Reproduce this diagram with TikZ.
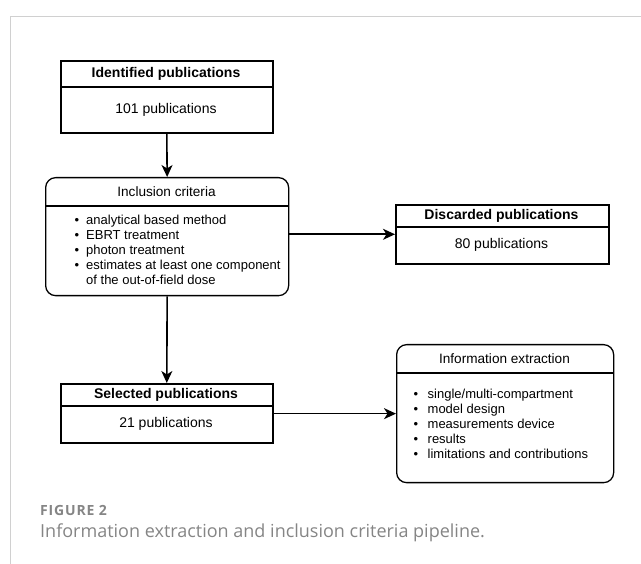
\documentclass[tikz,border=0pt]{standalone}
\usepackage{fontspec}
\setmainfont{Liberation Sans}
\newfontfamily\capfont{Open Sans}
\newfontfamily\figfont[LetterSpace=6]{Open Sans}
\usetikzlibrary{arrows.meta}
\definecolor{framegray}{HTML}{D0D0D0}
\definecolor{capgray}{HTML}{858585}
\begin{document}
\begin{tikzpicture}[x=1pt,y=-1pt,
  box/.style={draw, line width=1.6pt, inner sep=0pt, anchor=north west},
  rbox/.style={box, line width=1.3pt, rounded corners=10pt},
  divider/.style={line width=1.6pt},
  ttl/.style={font=\fontsize{14}{16}\selectfont\bfseries, inner sep=0pt},
  cnt/.style={font=\fontsize{14}{16}\selectfont, inner sep=0pt},
  rttl/.style={font=\fontsize{13.6}{16}\selectfont, inner sep=0pt},
  item/.style={font=\fontsize{13}{15}\selectfont, inner sep=0pt, anchor=base west},
  arr/.style={line width=1.6pt, -{Stealth[length=12pt,width=11pt,inset=3.5pt]}}
]
\useasboundingbox (0,0) rectangle (641,564);
% frame
\draw[framegray, line width=1pt] (641,17) -- (10,17) -- (10,564);

% Identified
\node[box, minimum width=212pt, minimum height=72pt] (ident) at (60,60) {};
\draw[divider] (60,87) -- (272,87);
\node[ttl] (identT) at (166,73.5) {Identified publications};
\node[cnt] (identC) at (166,109.5) {101 publications};

% Inclusion
\node[rbox, minimum width=243pt, minimum height=118pt] (incl) at (45,177) {};
\draw[line width=1.3pt] (45,206) -- (288,206);
\node[rttl] (inclT) at (166.5,191.5) {Inclusion criteria};
\node[item] (i1) at (74.5,224.5) {\makebox[11.5pt][l]{•}analytical based method};
\node[item] (i2) at (74.5,239.5) {\makebox[11.5pt][l]{•}EBRT treatment};
\node[item] (i3) at (74.5,254.5) {\makebox[11.5pt][l]{•}photon treatment};
\node[item] (i4) at (74.5,269.5) {\makebox[11.5pt][l]{•}estimates at least one component};
\node[item] (i5) at (86,284.5) {of the out-of-field dose};

% Discarded
\node[box, minimum width=213pt, minimum height=59pt] (disc) at (395,204) {};
\draw[divider] (395,227) -- (608,227);
\node[ttl] (discT) at (501.5,215.5) {Discarded publications};
\node[cnt] (discC) at (501.5,245) {80 publications};

% Selected
\node[box, minimum width=212pt, minimum height=59pt] (sel) at (60,383) {};
\draw[divider] (60,406) -- (272,406);
\node[ttl] (selT) at (166,394.5) {Selected publications};
\node[cnt] (selC) at (166,424) {21 publications};

% Information extraction
\node[rbox, minimum width=217pt, minimum height=138pt] (info) at (396,344) {};
\draw[line width=1.3pt] (396,373) -- (613,373);
\node[rttl] (infoT) at (504.5,358.5) {Information extraction};
\node[item] (e1) at (413.5,398.5) {\makebox[14pt][l]{•}single/multi-compartment};
\node[item] (e2) at (413.5,413.5) {\makebox[14pt][l]{•}model design};
\node[item] (e3) at (413.5,428.5) {\makebox[14pt][l]{•}measurements device};
\node[item] (e4) at (413.5,443.5) {\makebox[14pt][l]{•}results};
\node[item] (e5) at (413.5,458.5) {\makebox[14pt][l]{•}limitations and contributions};

% connectors
\draw[arr] (ident.south) -- (incl.north);
\draw[arr] (disc.west -| incl.east) -- (disc.west);
\draw[arr] (incl.south) -- (sel.north);
\draw[arr] (sel.east |- info.west) -- (info.west);

% caption
\node[anchor=base west, inner sep=0pt, text=capgray, font=\figfont\bfseries\fontsize{14}{16}\selectfont] (figlbl) at (40,515) {FIGURE 2};
\node[anchor=base west, inner sep=0pt, text=capgray, font=\capfont\fontsize{18}{20}\selectfont] (figcap) at (40,537.5) {Information extraction and inclusion criteria pipeline.};
\end{tikzpicture}
\end{document}
